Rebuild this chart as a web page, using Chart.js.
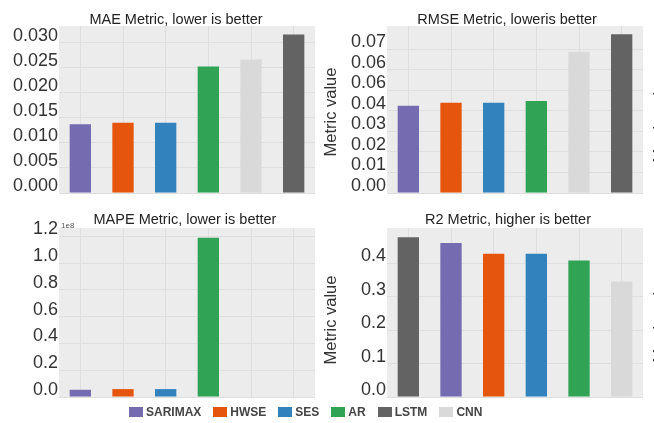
<!DOCTYPE html>
<html>
<head>
<meta charset="utf-8">
<script src="https://cdn.jsdelivr.net/npm/chart.js@4"></script>
<style>
    html, body { margin: 0; padding: 0; background: #fff; }
    body { position: relative; width: 654px; height: 423px; overflow: hidden; font-family: 'Liberation Sans', Arial, sans-serif; }
    canvas { position: absolute; }
    .title { position: absolute; font-size: 14.5px; color: #222; white-space: nowrap; transform: translate(-50%, -50%); }
    .ylabel { position: absolute; font-size: 16.5px; color: #333; white-space: nowrap; transform: translate(-50%, -50%) rotate(-90deg); }
    .offset { position: absolute; font-size: 8px; color: #555; }
    .legend { position: absolute; left: 129px; top: 405px; display: flex; gap: 12px; font-size: 12px; font-weight: bold; color: #444; }
    .legend span { display: flex; align-items: center; gap: 3px; }
    .legend i { display: inline-block; width: 14px; height: 10px; }
</style>
</head>
<body>
<canvas id="mae-chart" width="320" height="210" style="left:0;top:0"></canvas>
<canvas id="rmse-chart" width="334" height="210" style="left:320px;top:0"></canvas>
<canvas id="mape-chart" width="320" height="215" style="left:0;top:200px"></canvas>
<canvas id="r2-chart" width="334" height="215" style="left:320px;top:200px"></canvas>

<div class="title" style="left:176px;top:19px">MAE Metric, lower is better</div>
<div class="title" style="left:507px;top:19px">RMSE Metric, loweris better</div>
<div class="title" style="left:185px;top:219px">MAPE Metric, lower is better</div>
<div class="title" style="left:508px;top:219px">R2 Metric, higher is better</div>
<div class="ylabel" style="left:330px;top:112px">Metric value</div>
<div class="ylabel" style="left:330px;top:320px">Metric value</div>
<div class="ylabel" style="left:659px;top:118px">Metric value</div>
<div class="ylabel" style="left:659px;top:318px">Metric value</div>
<div class="offset" style="left:61px;top:221px">1e8</div>
<div class="legend" id="legend"></div>

<script>
// models and their colours, shared by all four panels and the legend
const models = ['SARIMAX', 'HWSE', 'SES', 'AR', 'LSTM', 'CNN']
const modelColors = ['#756bb1', '#e6550d', '#3182bd', '#31a354', '#636363', '#d9d9d9']

const maeOrder  = ['SARIMAX', 'HWSE', 'SES', 'AR', 'CNN', 'LSTM']
const maeValues = [0.0137, 0.0140, 0.0140, 0.0252, 0.0266, 0.0316]

const rmseOrder  = ['SARIMAX', 'HWSE', 'SES', 'AR', 'CNN', 'LSTM']
const rmseValues = [0.0424, 0.0439, 0.0439, 0.0447, 0.0687, 0.0772]
const rmseTickLabels = ['0.00', '0.01', '0.02', '0.03', '0.04', '0.06', '0.06', '0.07']

// MAPE is in units of 1e8, as the axis offset label says
const mapeOrder  = ['SARIMAX', 'HWSE', 'SES', 'AR', 'LSTM', 'CNN']
const mapeValues = [0.054, 0.059, 0.059, 1.19, null, null]

const r2Order  = ['LSTM', 'SARIMAX', 'HWSE', 'SES', 'AR', 'CNN']
const r2Values = [0.477, 0.460, 0.428, 0.428, 0.408, 0.345]

const gridColor = '#dedede'
const fontFamily = "'Liberation Sans', Arial, sans-serif"

const plotBackground = {
    id: 'plotBackground',
    beforeDraw: chart => {
        const {ctx, chartArea} = chart
        ctx.save()
        ctx.fillStyle = '#ececec'
        ctx.fillRect(chartArea.left, chartArea.top, chartArea.width, chartArea.height)
        ctx.restore()
    }
}

const renderPanel = (canvasId, order, values, opts) => {
    const canvasEl = document.getElementById(canvasId)
    return new Chart(canvasEl.getContext('2d'), {
        type: 'bar',
        data: {
            labels: order,
            datasets: [{
                data: values,
                backgroundColor: order.map(m => modelColors[models.indexOf(m)]),
                borderWidth: 0,
                categoryPercentage: 1,
                barPercentage: 0.5
            }]
        },
        options: {
            responsive: false,
            animation: false,
            devicePixelRatio: 1,
            layout: { padding: opts.padding },
            plugins: {
                legend: { display: false },
                tooltip: { enabled: false }
            },
            scales: {
                x: {
                    grid: { offset: false, color: gridColor, drawTicks: false },
                    border: { display: false },
                    ticks: { display: false },
                    afterFit: scale => { scale.height = 0 }
                },
                y: {
                    min: 0,
                    max: opts.max,
                    grid: { color: gridColor, drawTicks: false },
                    border: { display: false },
                    ticks: {
                        stepSize: opts.step,
                        includeBounds: false,
                        autoSkip: false,
                        padding: 1,
                        labelOffset: -7,
                        color: '#333',
                        font: { family: fontFamily, size: 18 },
                        callback: opts.format
                    },
                    afterBuildTicks: scale => {
                        scale.ticks = scale.ticks.filter(t => t.value <= opts.lastTick + opts.step / 100)
                    },
                    afterFit: scale => { scale.width = opts.axisWidth }
                }
            }
        },
        plugins: [plotBackground]
    })
}

const initCharts = () => {
    renderPanel('mae-chart', maeOrder, maeValues, {
        max: 0.0333, step: 0.005, lastTick: 0.030, axisWidth: 59,
        padding: { left: 0, right: 5, top: 26, bottom: 17 },
        format: v => v.toFixed(3)
    })
    renderPanel('rmse-chart', rmseOrder, rmseValues, {
        max: 0.0812, step: 0.01, lastTick: 0.07, axisWidth: 67,
        padding: { left: 0, right: 11, top: 26, bottom: 17 },
        format: (v, i) => rmseTickLabels[i]
    })
    renderPanel('mape-chart', mapeOrder, mapeValues, {
        max: 1.262, step: 0.2, lastTick: 1.2, axisWidth: 59,
        padding: { left: 0, right: 5, top: 28, bottom: 18 },
        format: v => v.toFixed(1)
    })
    renderPanel('r2-chart', r2Order, r2Values, {
        max: 0.505, step: 0.1, lastTick: 0.4, axisWidth: 67,
        padding: { left: 0, right: 11, top: 28, bottom: 18 },
        format: v => v.toFixed(1)
    })

    const legendEl = document.getElementById('legend')
    const legendOrder = ['SARIMAX', 'HWSE', 'SES', 'AR', 'LSTM', 'CNN']
    legendEl.innerHTML = legendOrder
        .map(m => `<span><i style="background:${modelColors[models.indexOf(m)]}"></i>${m}</span>`)
        .join('')
}

document.addEventListener('DOMContentLoaded', initCharts, false)
</script>
</body>
</html>
